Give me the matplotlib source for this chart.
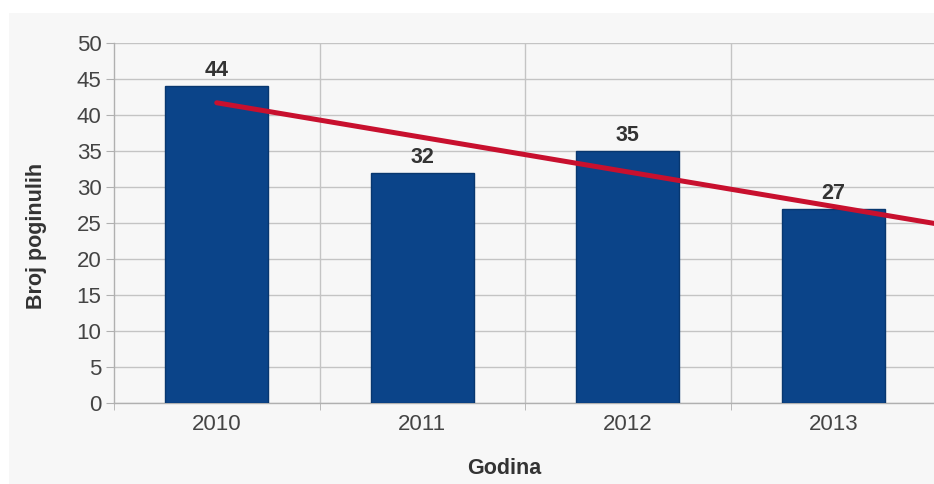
import numpy as np
import matplotlib.pyplot as plt
from matplotlib.patches import Rectangle

plt.rcParams['font.family'] = ['Liberation Sans', 'DejaVu Sans']

years = ['2010', '2011', '2012', '2013']
deaths = [44, 32, 35, 27]
y_ticks = [0, 5, 10, 15, 20, 25, 30, 35, 40, 45, 50]

W, H = 934, 484
fig = plt.figure(figsize=(W / 100, H / 100), dpi=100, facecolor='white')
# light grey chart background with a thin white border at top/left
fig.patches.append(Rectangle((9 / W, 0), 1, 1 - 13 / H, transform=fig.transFigure,
                             facecolor='#f7f7f7', edgecolor='none', zorder=-10))

ax = fig.add_axes([114 / W, 81 / H, 822 / W, 360 / H])
ax.set_facecolor('#f7f7f7')

x = np.arange(len(years))
ax.bar(x, deaths, width=0.5, color='#0b4489', edgecolor='#08376f', linewidth=1, zorder=3)

for xi, v in zip(x, deaths):
    ax.text(xi, v + 0.7, str(v), ha='center', va='bottom', fontsize=15.5,
            fontweight='bold', color='#333333', zorder=5)

# linear trend line
k, b = np.polyfit(x, deaths, 1)
xt = np.array([0, 3.5])
ax.plot(xt, k * xt + b, color='#c8102e', linewidth=3.6, solid_capstyle='round', zorder=4)

ax.set_xlim(-0.5, 3.5)
ax.set_ylim(0, 50)
ax.set_yticks(y_ticks)
ax.set_xticks(x)
ax.set_xticklabels(years)
ax.set_xticks(np.arange(-0.5, 3.6, 1), minor=True)

ax.grid(axis='y', color='#c4c4c4', linewidth=1, zorder=1)
for xb in [0.5, 1.5, 2.5]:
    ax.axvline(xb, color='#c4c4c4', linewidth=1, zorder=1)

for s in ['top', 'right']:
    ax.spines[s].set_visible(False)
for s in ['left', 'bottom']:
    ax.spines[s].set_color('#b0b0b0')
    ax.spines[s].set_linewidth(1)

ax.tick_params(axis='y', length=6, color='#b0b0b0', labelsize=16, labelcolor='#444444', pad=3)
ax.tick_params(axis='x', which='major', length=0, labelsize=16, labelcolor='#444444', pad=8)
ax.tick_params(axis='x', which='minor', length=5, color='#b0b0b0')

fig.text(37 / W, 1 - 236 / H, 'Broj poginulih', rotation=90, ha='center', va='center',
         fontsize=15.5, fontweight='bold', color='#333333')
fig.text(504 / W, 1 - 468 / H, 'Godina', ha='center', va='center', fontsize=15.5,
         fontweight='bold', color='#333333')

fig.savefig('out.png', dpi=100, facecolor=fig.get_facecolor())
